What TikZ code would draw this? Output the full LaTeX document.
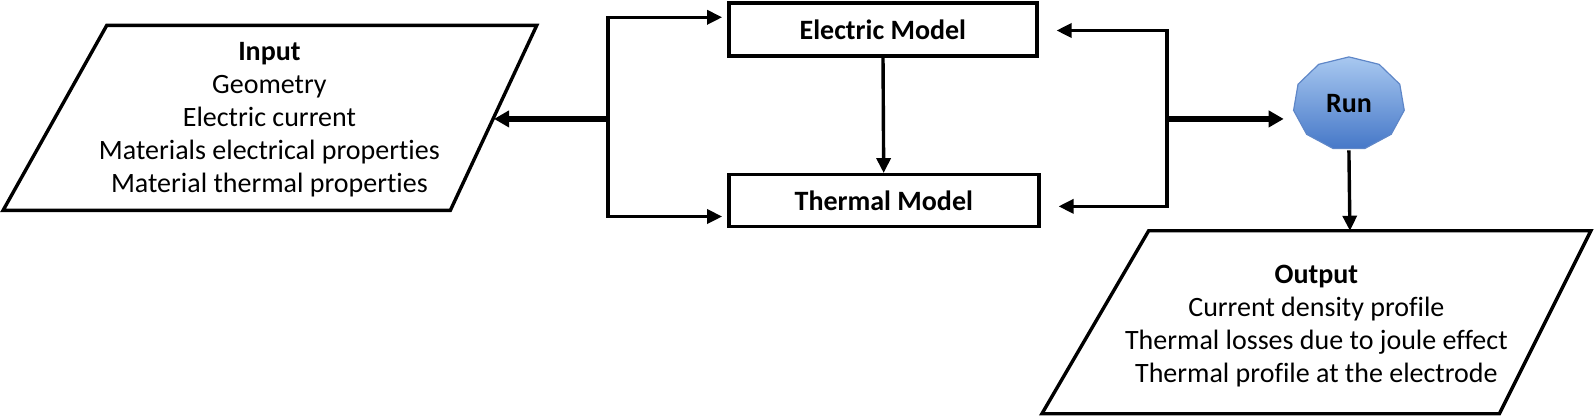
\documentclass[tikz,border=0pt]{standalone}
\usepackage{fontspec}
\setmainfont[RawFeature={-liga;-clig;-dlig;-calt;-rlig}]{Carlito}
\usetikzlibrary{arrows.meta}
\definecolor{runtop}{RGB}{168,200,240}
\definecolor{runbot}{RGB}{70,120,200}
\definecolor{runedge}{RGB}{95,135,200}
\newcommand\dfont{\fontsize{28}{33}\selectfont}
\begin{document}
\begin{tikzpicture}[x=1.0165pt,y=-1.0165pt,
  box/.style={draw, line width=3.4pt, minimum width=308pt, minimum height=53pt, inner sep=0pt, font=\dfont\bfseries},
  link/.style={line width=3.4pt, -{Triangle[length=15pt,width=14pt]}},
  thicklink/.style={line width=5.4pt, -{Triangle[length=15pt,width=16pt]}},
  border/.style={line width=3.4pt, line join=miter},
  txt/.style={align=center, font=\dfont, inner sep=0pt},
  runshape/.style={draw=runedge, line width=1.2pt, top color=runtop, bottom color=runbot}]
\useasboundingbox (0,0) rectangle (1569.1,410.2);
% Input
\draw[border] (105,25) -- (528,25) -- (443,207) -- (3,207) -- cycle;
\node[txt] (input) at (265,118) {\textbf{Input}\\Geometry\\Electric current\\Materials electrical properties\\Material thermal properties};
\coordinate (inedge) at (486,117);
% models
\node[box] (elec) at (868.5,29) {Electric Model};
\node[box, minimum width=310pt, minimum height=52pt] (therm) at (869.5,197.5) {Thermal Model};
\draw[link] (elec) -- (therm);
% left bracket
\coordinate (ltop) at (598,17);
\coordinate (lmid) at (598,117);
\coordinate (lbot) at (598,213);
\draw[link, shorten >=5pt] (lmid) |- (elec.west |- ltop);
\draw[link, shorten >=5pt] (lmid) |- (therm.west |- lbot);
\draw[thicklink] (lmid) -- (inedge);
% Run
\begin{scope}[shift={(1327,102)}]
\path[runshape] (270:55 and 46)
  \foreach \i in {1,...,10} { -- (270+\i*360/11:55 and 46) } -- cycle;
\end{scope}
\node[font=\dfont\bfseries, inner sep=0pt, minimum width=110pt, minimum height=93pt] (run) at (1327,102) {Run};
% right bracket
\coordinate (rtop) at (1148,30);
\coordinate (rmid) at (1148,117);
\coordinate (rbot) at (1148,203);
\draw[link, shorten >=18pt] (rmid) |- (elec.east |- rtop);
\draw[link, shorten >=18pt] (rmid) |- (therm.east |- rbot);
\draw[thicklink, shorten >=10pt] (rmid) -- (rmid -| run.west);
% Output
\draw[border] (1130,227) -- (1565,227) -- (1475,407) -- (1025,407) -- cycle;
\coordinate (outtop) at (1328,227);
\draw[link] (run.south) -- (outtop);
\node[txt] (output) at (1295,321) {\textbf{Output}\\Current density profile\\Thermal losses due to joule effect\\Thermal profile at the electrode};
\end{tikzpicture}
\end{document}
